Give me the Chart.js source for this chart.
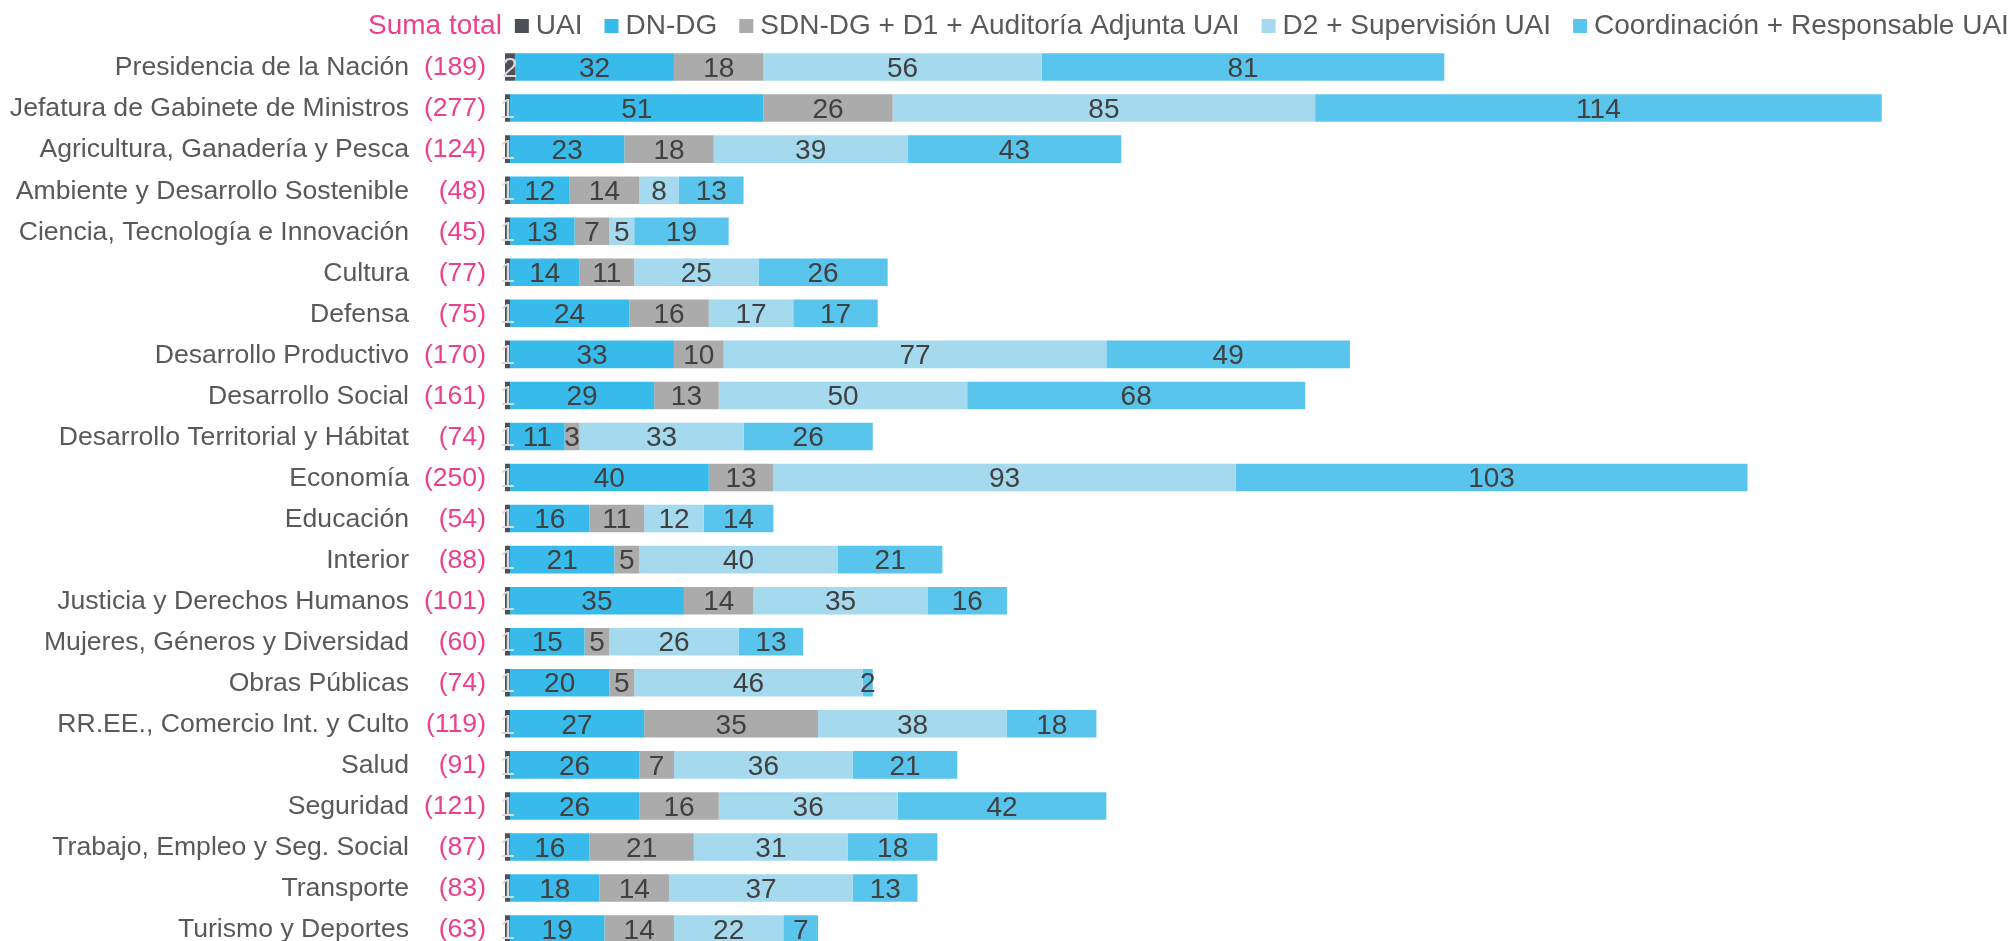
<!DOCTYPE html>
<html>
<head>
<meta charset="utf-8">
<script src="https://cdn.jsdelivr.net/npm/chart.js@4/dist/chart.umd.min.js"></script>
<style>
  html, body { margin: 0; padding: 0; background: #ffffff; overflow: hidden; }
  #wrap { width: 2009px; height: 960px; }
</style>
</head>
<body>
<div id="wrap"><canvas id="c" width="2009" height="960"></canvas></div>
<script>
const categories = [
  'Presidencia de la Nación',
  'Jefatura de Gabinete de Ministros',
  'Agricultura, Ganadería y Pesca',
  'Ambiente y Desarrollo Sostenible',
  'Ciencia, Tecnología e Innovación',
  'Cultura',
  'Defensa',
  'Desarrollo Productivo',
  'Desarrollo Social',
  'Desarrollo Territorial y Hábitat',
  'Economía',
  'Educación',
  'Interior',
  'Justicia y Derechos Humanos',
  'Mujeres, Géneros y Diversidad',
  'Obras Públicas',
  'RR.EE., Comercio Int. y Culto',
  'Salud',
  'Seguridad',
  'Trabajo, Empleo y Seg. Social',
  'Transporte',
  'Turismo y Deportes'
];
const totals = [189, 277, 124, 48, 45, 77, 75, 170, 161, 74, 250, 54, 88, 101, 60, 74, 119, 91, 121, 87, 83, 63];
const uai    = [2, 1, 1, 1, 1, 1, 1, 1, 1, 1, 1, 1, 1, 1, 1, 1, 1, 1, 1, 1, 1, 1];
const dnDg   = [32, 51, 23, 12, 13, 14, 24, 33, 29, 11, 40, 16, 21, 35, 15, 20, 27, 26, 26, 16, 18, 19];
const sdnDg  = [18, 26, 18, 14, 7, 11, 16, 10, 13, 3, 13, 11, 5, 14, 5, 5, 35, 7, 16, 21, 14, 14];
const d2Sup  = [56, 85, 39, 8, 5, 25, 17, 77, 50, 33, 93, 12, 40, 35, 26, 46, 38, 36, 36, 31, 37, 22];
const coord  = [81, 114, 43, 13, 19, 26, 17, 49, 68, 26, 103, 14, 21, 16, 13, 2, 18, 21, 42, 18, 13, 7];
const totalLabel = 'Suma total';
const seriesNames = ['UAI', 'DN-DG', 'SDN-DG + D1 + Auditoría Adjunta UAI', 'D2 + Supervisión UAI', 'Coordinación + Responsable UAI'];
const seriesColors = ['#4D5058', '#38BBEB', '#ABABAB', '#A5DAEE', '#5AC5EC'];

const FONT = '"Liberation Sans", Arial, sans-serif';
const TEXT_GRAY = '#595959';
const PINK = '#EE3F8C';
const LABEL_DARK = '#404040';

const seriesData = [uai, dnDg, sdnDg, d2Sup, coord];

const decor = {
  id: 'decor',
  afterDatasetsDraw(chart) {
    const ctx = chart.ctx;
    ctx.save();
    ctx.font = '28px ' + FONT;
    ctx.textAlign = 'center';
    ctx.textBaseline = 'middle';
    chart.data.datasets.forEach((ds, di) => {
      const meta = chart.getDatasetMeta(di);
      meta.data.forEach((el, i) => {
        const v = ds.data[i];
        const p = el.getCenterPoint();
        ctx.fillStyle = di === 0 ? '#D9D9D9' : LABEL_DARK;
        ctx.fillText(String(v), p.x, p.y + 2);
      });
    });
    ctx.restore();
  },
  afterDraw(chart) {
    const ctx = chart.ctx;
    const yScale = chart.scales.y;
    ctx.save();
    ctx.font = '26.6px ' + FONT;
    ctx.textBaseline = 'middle';
    categories.forEach((name, i) => {
      const y = yScale.getPixelForValue(i) + 1;
      ctx.textAlign = 'right';
      ctx.fillStyle = TEXT_GRAY;
      ctx.fillText(name, 409, y);
      ctx.fillStyle = PINK;
      ctx.fillText('(' + totals[i] + ')', 486, y);
    });
    // legend
    ctx.font = '28px ' + FONT;
    const ly = 26;
    let x = 368;
    ctx.textAlign = 'left';
    ctx.fillStyle = PINK;
    ctx.fillText(totalLabel, x, ly);
    x += ctx.measureText(totalLabel).width + 13;
    seriesNames.forEach((n, i) => {
      ctx.fillStyle = seriesColors[i];
      ctx.fillRect(x, ly - 7, 14, 14);
      x += 14 + 7;
      ctx.fillStyle = TEXT_GRAY;
      ctx.fillText(n, x, ly);
      x += ctx.measureText(n).width + 22;
    });
    ctx.restore();
  }
};

new Chart(document.getElementById('c'), {
  type: 'bar',
  data: {
    labels: categories,
    datasets: seriesData.map((d, i) => ({
      label: seriesNames[i],
      data: d,
      backgroundColor: seriesColors[i],
      borderWidth: 0,
      barPercentage: 0.67,
      categoryPercentage: 1.0
    }))
  },
  options: {
    indexAxis: 'y',
    responsive: false,
    animation: false,
    layout: { padding: { left: 505, right: 13, top: 46.5, bottom: 10.4 } },
    scales: {
      x: { stacked: true, min: 0, max: 300, display: false },
      y: { stacked: true, display: false }
    },
    plugins: {
      legend: { display: false },
      tooltip: { enabled: false }
    }
  },
  plugins: [decor]
});
</script>
</body>
</html>
